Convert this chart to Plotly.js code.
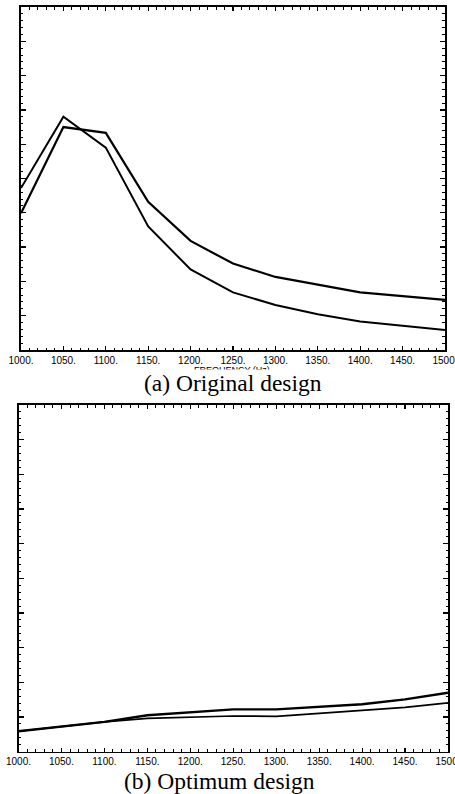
<!DOCTYPE html>
<html>
<head>
<meta charset="utf-8">
<script src="https://cdn.plot.ly/plotly-3.0.1.min.js"></script>
<style>html,body{margin:0;padding:0;background:#fff;}#chart{width:455px;height:794px;}</style>
</head>
<body>
<div id="chart"></div>
<script>
// Frequency (Hz)
const freq = [1000, 1050, 1100, 1150, 1200, 1250, 1300, 1350, 1400, 1450, 1500];
const freqLabels = ["1000.", "1050.", "1100.", "1150.", "1200.", "1250.", "1300.", "1350.", "1400.", "1450.", "1500."];
// (a) Original design - two response curves
const originalA = [4.72, 6.80, 5.90, 3.60, 2.35, 1.68, 1.31, 1.04, 0.83, 0.70, 0.58];
const originalB = [3.99, 6.50, 6.33, 4.32, 3.18, 2.52, 2.13, 1.90, 1.68, 1.57, 1.46];
// (b) Optimum design - two response curves
const optimumA = [0.59, 0.72, 0.86, 1.05, 1.13, 1.22, 1.22, 1.29, 1.37, 1.51, 1.70];
const optimumB = [0.59, 0.72, 0.86, 0.96, 1.00, 1.03, 1.02, 1.10, 1.18, 1.28, 1.41];
const captionA = "(a) Original design";
const captionB = "(b) Optimum design";
const xTitle = "FREQUENCY (Hz)";

const lineStyle = (w) => ({color: "#000", width: w});
const traces = [
  {x: freq, y: originalA, xaxis: "x", yaxis: "y", mode: "lines", line: lineStyle(2), hoverinfo: "skip"},
  {x: freq, y: originalB, xaxis: "x", yaxis: "y", mode: "lines", line: lineStyle(2.2), hoverinfo: "skip"},
  {x: freq, y: optimumA, xaxis: "x2", yaxis: "y2", mode: "lines", line: lineStyle(2.4), hoverinfo: "skip"},
  {x: freq, y: optimumB, xaxis: "x2", yaxis: "y2", mode: "lines", line: lineStyle(1.7), hoverinfo: "skip"}
];

const tickFont = {family: "Liberation Sans, Arial, sans-serif", size: 10, color: "#000"};
function xAxis(domain, anchor) {
  return {
    domain: domain, anchor: anchor, range: [1000, 1500],
    tickmode: "array", tickvals: freq, ticktext: freqLabels,
    ticklabeloverflow: "allow",
    ticks: "inside", ticklen: 4, tickwidth: 1.2, tickcolor: "#000",
    minor: {ticks: "inside", dtick: 10, ticklen: 2.5, tickwidth: 1, tickcolor: "#000"},
    showline: true, linecolor: "#000", linewidth: 1.6, mirror: "ticks",
    showgrid: false, zeroline: false, tickfont: tickFont, fixedrange: true
  };
}
function yAxis(domain, anchor) {
  return {
    domain: domain, anchor: anchor, range: [0, 10],
    tickmode: "linear", tick0: 0, dtick: 1, showticklabels: false,
    ticks: "inside", ticklen: 5, tickwidth: 1.3, tickcolor: "#000",
    minor: {ticks: "inside", dtick: 0.2, ticklen: 2.5, tickwidth: 1, tickcolor: "#000"},
    showline: true, linecolor: "#000", linewidth: 1.6, mirror: "ticks",
    showgrid: false, zeroline: false, fixedrange: true
  };
}

const layout = {
  width: 455, height: 794,
  margin: {l: 0, r: 0, t: 0, b: 0},
  paper_bgcolor: "#fff", plot_bgcolor: "#fff",
  showlegend: false,
  xaxis: xAxis([0.04615, 0.97802], "y"),
  yaxis: yAxis([0.55919, 0.99118], "x"),
  xaxis2: xAxis([0.04066, 0.98462], "y2"),
  yaxis2: yAxis([0.05327, 0.48992], "x2"),
  annotations: [
    {text: xTitle, xref: "paper", yref: "paper", x: 0.5088, y: 0.5345, xanchor: "center", yanchor: "middle",
     showarrow: false, font: {family: "Liberation Sans, Arial, sans-serif", size: 9, color: "#000"}},
    {text: captionA, xref: "paper", yref: "paper", x: 0.5121, y: 0.5176, xanchor: "center", yanchor: "middle",
     showarrow: false, bgcolor: "#fff", borderpad: 0,
     font: {family: "Liberation Serif, Times New Roman, serif", size: 23.5, color: "#000"}},
    {text: captionB, xref: "paper", yref: "paper", x: 0.4835, y: 0.01637, xanchor: "center", yanchor: "middle",
     showarrow: false, bgcolor: "#fff", borderpad: 0,
     font: {family: "Liberation Serif, Times New Roman, serif", size: 23.5, color: "#000"}}
  ]
};

Plotly.newPlot("chart", traces, layout, {staticPlot: true, displayModeBar: false});
</script>
</body>
</html>
